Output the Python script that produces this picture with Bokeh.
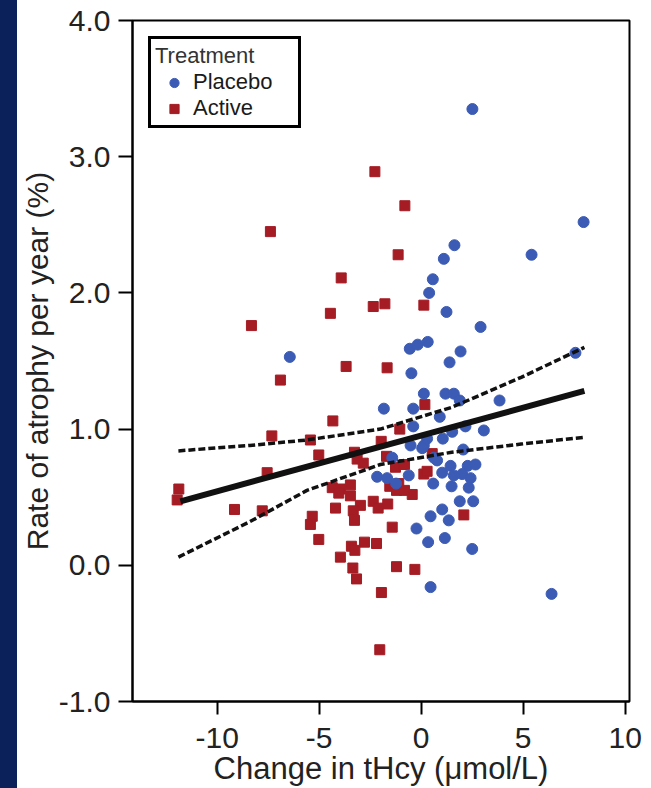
from bokeh.plotting import figure
from bokeh.models import (ColumnDataSource, Range1d, FixedTicker, Legend, LegendItem,
                          GlobalInlineStyleSheet)
from bokeh.embed import file_html
from bokeh.resources import INLINE

# ---------------- data ----------------
placebo_x = [2.51, 7.96, 5.41, 1.63, 1.11, 0.57, 0.39, 1.24, -6.44, 2.91,
             -0.56, -0.17, 0.32, 1.93, 1.39, -0.48, 7.56, 0.13, 1.19, 1.60,
             1.89, 3.84, -1.83, -0.39, 0.91, -0.39, 2.17, 3.07, 1.52, 0.29,
             1.06, 0.13, -0.52, 0.05, 2.06, -1.42, 0.62, 0.78, 1.44, 2.28,
             2.66, 2.01, -0.61, 1.03, 1.60, 2.42, -2.16, -1.67, 0.59, 1.49,
             2.33, -1.23, 1.89, 2.55, 1.03, 0.46, 1.35, -0.23, 0.34, 1.16,
             2.50, 0.46, 6.39]
placebo_y = [3.35, 2.52, 2.28, 2.35, 2.25, 2.10, 2.00, 1.86, 1.53, 1.75,
             1.59, 1.62, 1.64, 1.57, 1.49, 1.41, 1.56, 1.26, 1.26, 1.26,
             1.21, 1.21, 1.15, 1.15, 1.09, 1.02, 1.02, 0.99, 0.98, 0.93,
             0.93, 0.88, 0.88, 0.86, 0.85, 0.79, 0.79, 0.77, 0.73, 0.73,
             0.74, 0.67, 0.66, 0.68, 0.66, 0.64, 0.65, 0.64, 0.60, 0.58,
             0.57, 0.60, 0.47, 0.47, 0.41, 0.36, 0.33, 0.27, 0.17, 0.20,
             0.12, -0.16, -0.21]

active_x = [-2.27, -7.39, -3.92, -2.35, -1.78, -4.45, -0.80, -1.13, 0.13, -8.32,
            -3.68, -6.90, -1.67, -4.33, -7.32, -5.43, -5.02, -3.27, -3.14, -2.84,
            -7.55, -1.96, -1.70, -3.47, -4.36, -3.96, 0.18, -1.05, 0.54, -1.26,
            -0.82, 0.13, 0.29, -1.10, -1.54, -7.79, -5.34, -5.43, -5.02, -4.20,
            -4.04, -3.47, -2.98, -3.33, -3.27, -2.35, -2.11, -1.64, -1.21, -0.44,
            2.09, -1.42, -2.19, -2.78, -3.42, -3.96, -1.21, -0.31, -3.35, -3.17,
            -1.95, -2.03, -11.88, -11.96, -9.15, -3.25, -0.82]
active_y = [2.89, 2.45, 2.11, 1.90, 1.92, 1.85, 2.64, 2.28, 1.91, 1.76,
            1.46, 1.36, 1.45, 1.06, 0.95, 0.92, 0.81, 0.83, 0.78, 0.75,
            0.68, 0.91, 0.80, 0.59, 0.57, 0.56, 1.18, 1.00, 0.82, 0.72,
            0.74, 0.67, 0.69, 0.60, 0.58, 0.40, 0.36, 0.30, 0.19, 0.42,
            0.53, 0.51, 0.44, 0.40, 0.33, 0.47, 0.42, 0.45, 0.55, 0.52,
            0.37, 0.28, 0.16, 0.17, 0.14, 0.06, -0.01, -0.03, -0.02, -0.10,
            -0.20, -0.62, 0.56, 0.48, 0.41, 0.11, 0.55]

fit_x = [-11.8, 8.0]
fit_y = [0.47, 1.28]
ci_x = [-11.9, -8.4, -5.6, -2.0, 1.5, 4.9, 8.0]
ci_upper = [0.84, 0.88, 0.92, 1.00, 1.16, 1.38, 1.60]
ci_lower = [0.06, 0.32, 0.55, 0.74, 0.83, 0.89, 0.94]

x_ticks = [-10, -5, 0, 5, 10]
x_tick_labels = ["-10", "-5", "0", "5", "10"]
y_ticks = [-1, 0, 1, 2, 3, 4]
y_tick_labels = ["-1.0", "0.0", "1.0", "2.0", "3.0", "4.0"]

BLUE = "#3b5bb5"
RED = "#a51c24"
FONT = "Liberation Sans"

p = figure(width=643, height=788,
           x_range=Range1d(-14.15, 10.21), y_range=Range1d(-1, 4),
           output_backend="svg", toolbar_location=None,
           min_border_left=132, min_border_right=14,
           min_border_top=20, min_border_bottom=85)

p.background_fill_color = "white"
p.border_fill_color = None
p.outline_line_color = "black"
p.outline_line_width = 2
p.grid.visible = False

p.stylesheets = [GlobalInlineStyleSheet(css=(
    "html{background:linear-gradient(to right,#0b2159 17px,#ffffff 17px);overflow:hidden;}"
    "body{overflow:hidden;}"))]

src_a = ColumnDataSource(dict(x=active_x, y=active_y))
src_p = ColumnDataSource(dict(x=placebo_x, y=placebo_y))

r_act = p.scatter("x", "y", source=src_a, marker="square", size=10,
                  fill_color=RED, line_color=RED)
r_pla = p.scatter("x", "y", source=src_p, marker="circle", size=11,
                  fill_color=BLUE, line_color=BLUE)

p.line(ci_x, ci_upper, line_color="#111111", line_width=3.5, line_dash="7 3")
p.line(ci_x, ci_lower, line_color="#111111", line_width=3.5, line_dash="7 3")
p.line(fit_x, fit_y, line_color="#111111", line_width=6)

# axes
p.xaxis.ticker = FixedTicker(ticks=x_ticks)
p.yaxis.ticker = FixedTicker(ticks=y_ticks)
p.xaxis.major_label_overrides = dict(zip(x_ticks, x_tick_labels))
p.yaxis.major_label_overrides = dict(zip(y_ticks, y_tick_labels))
p.xaxis.axis_label = "Change in tHcy (\u03bcmol/L)"
p.yaxis.axis_label = "Rate of atrophy per year (%)"
for ax in (p.xaxis[0], p.yaxis[0]):
    ax.axis_line_color = "black"
    ax.axis_line_width = 2
    ax.major_tick_line_color = "black"
    ax.major_tick_line_width = 2
    ax.major_tick_in = 0
    ax.minor_tick_line_color = None
    ax.major_label_text_font = FONT
    ax.major_label_text_font_size = "30px"
    ax.major_label_text_color = "#222222"
    ax.axis_label_text_font = FONT
    ax.axis_label_text_font_style = "normal"
    ax.axis_label_text_color = "#222222"
p.xaxis.axis_label_text_font_size = "31px"
p.yaxis.axis_label_text_font_size = "30px"
p.xaxis.major_tick_out = 13
p.yaxis.major_tick_out = 14
p.xaxis.major_label_standoff = 13
p.yaxis.major_label_standoff = 8
p.xaxis.axis_label_standoff = 0
p.yaxis.axis_label_standoff = 2

legend = Legend(
    items=[LegendItem(label="Placebo", renderers=[r_pla]),
           LegendItem(label="Active", renderers=[r_act])],
    location=(16, 573),
    title="Treatment",
    title_text_font=FONT, title_text_font_size="22px",
    title_text_font_style="normal", title_text_color="#333333",
    title_standoff=0,
    label_text_font=FONT, label_text_font_size="22px", label_text_color="#1a1a1a",
    padding=4, spacing=0, margin=0,
    glyph_width=38, glyph_height=23, label_height=22, label_width=101,
    label_standoff=0,
    border_line_color="black", border_line_width=3, border_line_alpha=1.0,
    background_fill_color="white", background_fill_alpha=1.0,
)
p.add_layout(legend)

open("out.html", "w").write(file_html(p, INLINE))
